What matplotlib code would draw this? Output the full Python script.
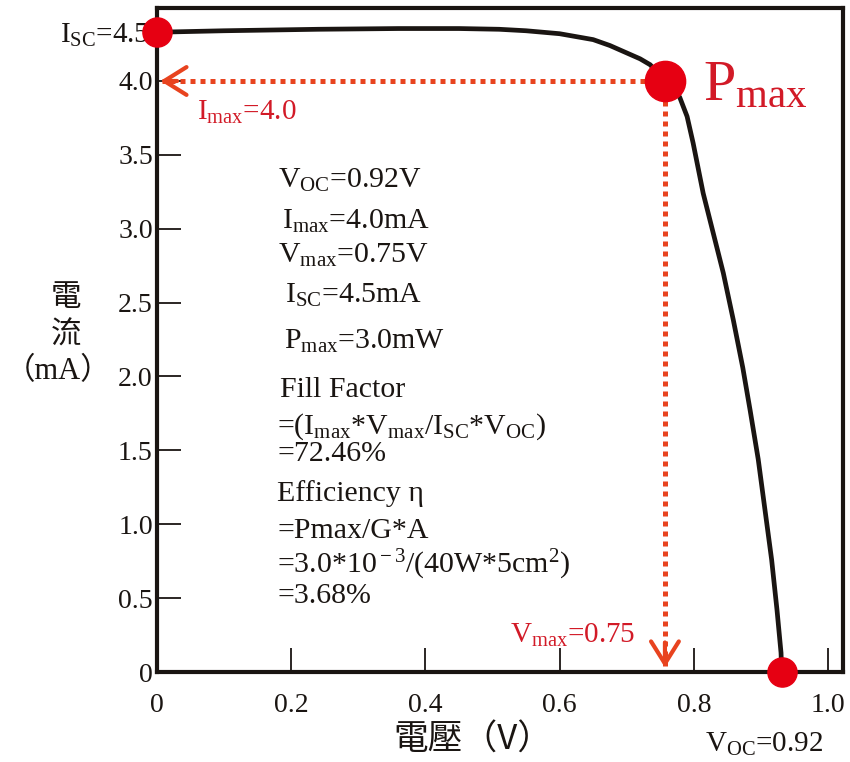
import matplotlib
matplotlib.use('Agg')
import matplotlib.pyplot as plt

plt.rcParams['font.family'] = ['Liberation Serif', 'Noto Sans CJK TC']
plt.rcParams['mathtext.fontset'] = 'custom'
plt.rcParams['mathtext.rm'] = 'Liberation Serif'
plt.rcParams['mathtext.it'] = 'Liberation Serif:italic'

# I-V curve (V in volts, I in mA)
v_curve = [0.0, 0.10, 0.24, 0.36, 0.45, 0.51, 0.55, 0.60, 0.625, 0.65, 0.675,
           0.70, 0.72, 0.735, 0.745, 0.757,
           0.769, 0.779, 0.790, 0.799, 0.814, 0.829, 0.844, 0.859, 0.873, 0.884,
           0.896, 0.906, 0.916, 0.924, 0.930, 0.931]
i_curve = [4.33, 4.34, 4.35, 4.355, 4.355, 4.35, 4.34, 4.32, 4.30, 4.28, 4.24,
           4.19, 4.15, 4.11, 4.06, 4.00,
           3.95, 3.89, 3.76, 3.58, 3.24, 2.97, 2.70, 2.38, 2.06, 1.77,
           1.44, 1.10, 0.76, 0.42, 0.13, 0.0]

isc_pt = (0.0, 4.33)
pmax_pt = (0.757, 4.0)
voc_pt = (0.931, 0.0)

xticks = [0, 0.2, 0.4, 0.6, 0.8, 1.0]
xtick_labels = ['0', '0.2', '0.4', '0.6', '0.8', '1.0']
yticks = [0, 0.5, 1.0, 1.5, 2.0, 2.5, 3.0, 3.5, 4.0]
ytick_labels = ['0', '0.5', '1.0', '1.5', '2.0', '2.5', '3.0', '3.5', '4.0']

info_lines = [
    r'V$_{\rm OC}$=0.92V',
    r'I$_{\rm max}$=4.0mA',
    r'V$_{\rm max}$=0.75V',
    r'I$_{\rm SC}$=4.5mA',
    r'P$_{\rm max}$=3.0mW',
    'Fill Factor',
    r'=(I$_{\rm max}$*V$_{\rm max}$/I$_{\rm SC}$*V$_{\rm OC}$)',
    '=72.46%',
    'Efficiency η',
    '=Pmax/G*A',
    r'=3.0*10$^{\rm -3}$/(40W*5cm$^{\rm 2}$)',
    '=3.68%',
]
info_x = [0.180, 0.186, 0.180, 0.191, 0.189, 0.183, 0.179, 0.179, 0.179, 0.179, 0.179, 0.179]
info_y = [3.28, 3.00, 2.77, 2.50, 2.19, 1.86, 1.61, 1.43, 1.16, 0.91, 0.67, 0.47]

red_txt = '#d21a27'
red_dot = '#e60012'
red_line = '#e8431f'
black = '#1a1512'

fig = plt.figure(figsize=(8.5, 7.62), dpi=100)
ax = fig.add_axes([0.1847, 0.1181, 0.8071, 0.8714])
ax.set_xlim(0, 1.0224)
ax.set_ylim(0, 4.494)

for s in ax.spines.values():
    s.set_linewidth(3)
    s.set_color(black)

ax.set_xticks(xticks)
ax.set_xticklabels(xtick_labels)
ax.set_yticks(yticks)
ax.set_yticklabels(ytick_labels)
ax.tick_params(axis='both', direction='in', length=17, width=1.3, colors=black,
               labelsize=20)
ax.tick_params(axis='x', pad=15)
ax.tick_params(axis='y', pad=3)

# dotted guides to Pmax
ax.plot([pmax_pt[0], 0.008], [pmax_pt[1], pmax_pt[1]], color=red_line, lw=3.6,
        ls=(0, (1, 1)), dash_capstyle='butt', zorder=2)
ax.plot([pmax_pt[0], pmax_pt[0]], [pmax_pt[1], 0.04], color=red_line, lw=3.6,
        ls=(0, (1, 1)), dash_capstyle='butt', zorder=2)
ax.annotate('', xy=(0.005, pmax_pt[1]), xytext=(0.03, pmax_pt[1]),
            arrowprops=dict(arrowstyle='->,head_length=0.8,head_width=0.5',
                            color=red_line, lw=3, mutation_scale=20,
                            shrinkA=0, shrinkB=0))
ax.annotate('', xy=(pmax_pt[0], 0.03), xytext=(pmax_pt[0], 0.2),
            arrowprops=dict(arrowstyle='->,head_length=0.8,head_width=0.5',
                            color=red_line, lw=3, mutation_scale=20,
                            shrinkA=0, shrinkB=0))

ax.plot(v_curve, i_curve, color=black, lw=3.4, zorder=3,
        solid_joinstyle='round', solid_capstyle='round')

ax.plot(*isc_pt, 'o', ms=21, color=red_dot, clip_on=False, zorder=5)
ax.plot(*voc_pt, 'o', ms=21, color=red_dot, clip_on=False, zorder=5)
ax.plot(*pmax_pt, 'o', ms=29, color=red_dot, clip_on=False, zorder=5)

for x, y, t in zip(info_x, info_y, info_lines):
    ax.text(x, y, t, fontsize=21.5, color=black, va='baseline', ha='left')

ax.text(0.060, 3.74, r'I$_{\rm max}$=4.0', fontsize=21, color=red_txt, va='baseline')
ax.text(0.526, 0.20, r'V$_{\rm max}$=0.75', fontsize=21, color=red_txt, va='baseline')
ax.text(0.814, 3.87, r'P$_{\rm max}$', fontsize=42, color=red_txt, va='baseline')
ax.text(-0.011, 4.26, r'I$_{\rm SC}$=4.5', fontsize=21, color=black, va='baseline',
        ha='right', clip_on=False)
ax.text(0.817, -0.54, r'V$_{\rm OC}$=0.92', fontsize=21, color=black, va='baseline',
        clip_on=False)

# axis titles
fig.text(473 / 850, 1 - 740 / 762, '電壓（V）', fontsize=25, color=black,
         family=['Noto Sans CJK TC', 'DejaVu Sans'], ha='center', va='center')
fig.text(66 / 850, 1 - 298 / 762, '電', fontsize=22, color=black,
         family=['Noto Sans CJK TC'], ha='center', va='center')
fig.text(66 / 850, 1 - 335 / 762, '流', fontsize=22, color=black,
         family=['Noto Sans CJK TC'], ha='center', va='center')
fig.text(58 / 850, 1 - 372 / 762, '（mA）', fontsize=22, color=black,
         family=['Liberation Serif', 'Noto Sans CJK TC'], ha='center', va='center')

fig.savefig('out.png', dpi=100, facecolor='white')
